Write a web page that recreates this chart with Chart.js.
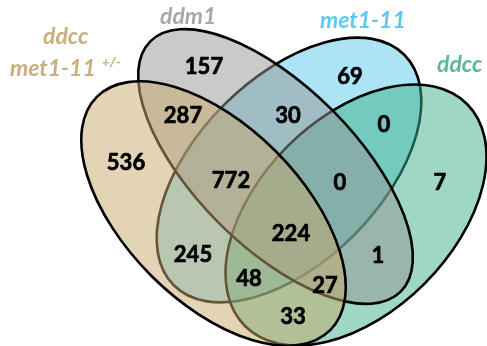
<!DOCTYPE html>
<html>
<head>
<meta charset="utf-8">
<script src="https://cdn.jsdelivr.net/npm/chart.js@4"></script>
<style>
  html, body { margin: 0; padding: 0; background: #ffffff; }
  #wrap { width: 487px; height: 346px; }
</style>
</head>
<body>
<div id="wrap"><canvas id="venn" width="487" height="346"></canvas></div>
<script>
// Set names (order: tan, grey, blue, green)
const setNames = ['ddcc met1-11 +/-', 'ddm1', 'met1-11', 'ddcc'];
// Region membership and the gene count in each region
const regionSets = ['A', 'B', 'C', 'D', 'AB', 'BC', 'CD', 'ABC', 'BCD', 'ABCD', 'AC', 'ACD', 'ABD', 'AD', 'BD'];
const regionCounts = [536, 157, 69, 7, 287, 30, 0, 772, 0, 224, 245, 48, 27, 33, 1];

// Where each region's count is centred (plot units)
const regionLabelX = [126, 204, 350, 440, 183, 288, 384, 231, 340, 291, 193, 249, 325, 293, 378];
const regionLabelY = [162, 66, 76, 182, 115, 115, 124, 180, 182, 233, 254, 278, 285, 316, 255];

// Ellipse geometry: centre, semi-axes, rotation (deg); drawn bottom to top
const ellipses = [
  { set: 'C', cx: 289, cy: 170, a: 163, b: 92, rot: -45, fill: 'rgba(89,201,235,0.5)' },
  { set: 'D', cx: 356, cy: 215, a: 157, b: 97, rot: -45, fill: 'rgba(61,177,137,0.5)' },
  { set: 'B', cx: 275.5, cy: 166.5, a: 177, b: 80, rot: 45, fill: 'rgba(150,150,150,0.5)' },
  { set: 'A', cx: 213.5, cy: 213.5, a: 165, b: 88, rot: 45, fill: 'rgba(200,170,110,0.5)' }
];

// Set titles: text lines with left edge and baseline (plot units)
const setTitles = [
  { lines: ['ddcc', 'met1-11'], sup: '+/-', x: [43, 10], y: [44, 76], color: '#c9ae7e' },
  { lines: ['ddm1'], x: [160], y: [24], color: '#a8a8a8' },
  { lines: ['met1-11'], x: [320], y: [28], color: '#5cc9f0' },
  { lines: ['ddcc'], x: [437], y: [72], color: '#5cb995' }
];

const vennPlugin = {
  id: 'venn',
  beforeDatasetsDraw(chart) {
    const { ctx, scales: { x, y } } = chart;
    ctx.save();
    ellipses.forEach(e => {
      const px = x.getPixelForValue(e.cx), py = y.getPixelForValue(e.cy);
      const rx = Math.abs(x.getPixelForValue(e.cx + e.a) - px);
      const ry = Math.abs(y.getPixelForValue(e.cy + e.b) - py);
      ctx.beginPath();
      ctx.ellipse(px, py, rx, ry, e.rot * Math.PI / 180, 0, Math.PI * 2);
      ctx.fillStyle = e.fill;
      ctx.fill();
      ctx.lineWidth = 2.6;
      ctx.strokeStyle = '#000000';
      ctx.stroke();
    });
    ctx.restore();
  },
  afterDatasetsDraw(chart) {
    const { ctx, scales: { x, y } } = chart;
    ctx.save();
    // region counts, centred on each point (light stroke for a heavier face)
    const meta = chart.getDatasetMeta(0);
    ctx.fillStyle = '#000000';
    ctx.strokeStyle = '#000000';
    ctx.lineWidth = 0.7;
    ctx.lineJoin = 'round';
    ctx.font = 'bold 22px Lato';
    ctx.textAlign = 'center';
    ctx.textBaseline = 'alphabetic';
    meta.data.forEach((pt, i) => {
      const s = String(regionCounts[i]);
      ctx.fillText(s, pt.x, pt.y + 8);
      ctx.strokeText(s, pt.x, pt.y + 8);
    });
    // set titles
    ctx.textAlign = 'left';
    setTitles.forEach(t => {
      ctx.fillStyle = t.color;
      t.lines.forEach((line, j) => {
        ctx.font = 'italic bold 23px Lato';
        const px = x.getPixelForValue(t.x[j]), py = y.getPixelForValue(t.y[j]);
        ctx.fillText(line, px, py);
        if (t.sup && j === t.lines.length - 1) {
          const w = ctx.measureText(line).width;
          ctx.font = 'italic bold 14px Lato';
          ctx.fillText(t.sup, px + w + 6, py - 9);
        }
      });
    });
    ctx.restore();
  }
};

new Chart(document.getElementById('venn'), {
  type: 'scatter',
  data: {
    datasets: [{
      data: regionCounts.map((c, i) => ({ x: regionLabelX[i], y: regionLabelY[i], count: c, sets: regionSets[i] })),
      pointRadius: 0,
      pointHoverRadius: 0
    }]
  },
  options: {
    responsive: false,
    animation: false,
    events: [],
    layout: { padding: 0 },
    plugins: { legend: { display: false }, tooltip: { enabled: false } },
    scales: {
      x: { type: 'linear', min: 0, max: 487, display: false },
      y: { type: 'linear', min: 0, max: 346, reverse: true, display: false }
    }
  },
  plugins: [vennPlugin]
});
</script>
</body>
</html>
